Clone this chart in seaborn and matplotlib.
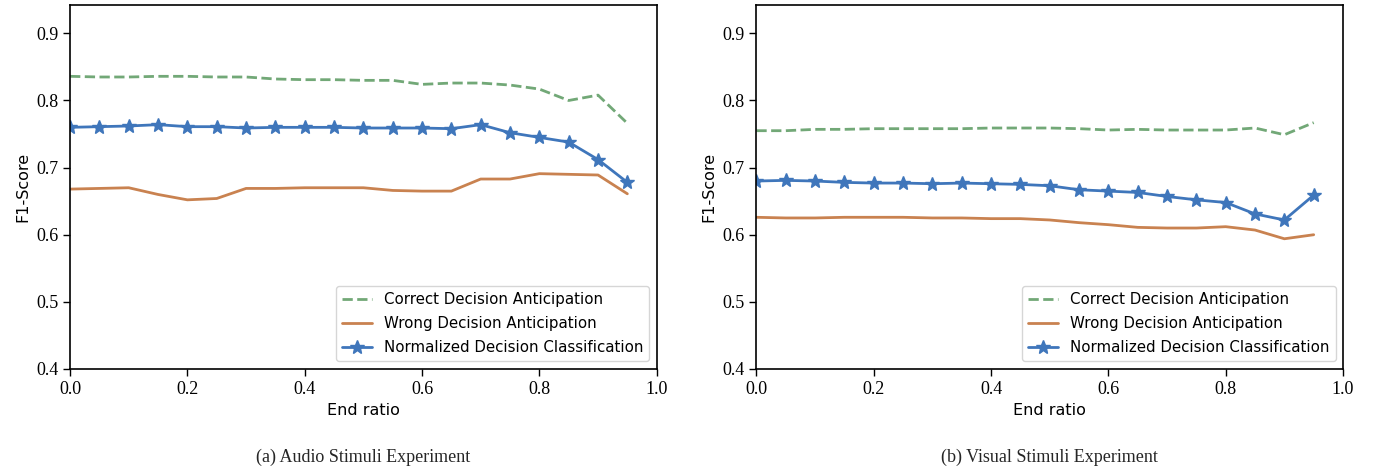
import numpy as np
import pandas as pd
import matplotlib.pyplot as plt
import seaborn as sns

end_ratio = [0.0, 0.05, 0.1, 0.15, 0.2, 0.25, 0.3, 0.35, 0.4, 0.45,
             0.5, 0.55, 0.6, 0.65, 0.7, 0.75, 0.8, 0.85, 0.9, 0.95]

# audio stimuli
audio_correct = [0.836, 0.835, 0.835, 0.836, 0.836, 0.835, 0.835, 0.832, 0.831, 0.831,
                 0.830, 0.830, 0.824, 0.826, 0.826, 0.823, 0.817, 0.800, 0.808, 0.766]
audio_wrong = [0.668, 0.669, 0.670, 0.660, 0.652, 0.654, 0.669, 0.669, 0.670, 0.670,
               0.670, 0.666, 0.665, 0.665, 0.683, 0.683, 0.691, 0.690, 0.689, 0.661]
audio_norm = [0.760, 0.761, 0.762, 0.764, 0.761, 0.761, 0.759, 0.760, 0.760, 0.760,
              0.759, 0.759, 0.759, 0.758, 0.764, 0.752, 0.745, 0.738, 0.712, 0.678]

# visual stimuli
visual_correct = [0.755, 0.755, 0.757, 0.757, 0.758, 0.758, 0.758, 0.758, 0.759, 0.759,
                  0.759, 0.758, 0.756, 0.757, 0.756, 0.756, 0.756, 0.759, 0.749, 0.767]
visual_wrong = [0.626, 0.625, 0.625, 0.626, 0.626, 0.626, 0.625, 0.625, 0.624, 0.624,
                0.622, 0.618, 0.615, 0.611, 0.610, 0.610, 0.612, 0.607, 0.594, 0.600]
visual_norm = [0.680, 0.681, 0.680, 0.678, 0.677, 0.677, 0.676, 0.677, 0.676, 0.675,
               0.673, 0.667, 0.665, 0.663, 0.657, 0.652, 0.648, 0.631, 0.622, 0.659]

labels = ['Correct Decision Anticipation', 'Wrong Decision Anticipation',
          'Normalized Decision Classification']
captions = ['(a) Audio Stimuli Experiment', '(b) Visual Stimuli Experiment']
colors = ['#72a877', '#c98250', '#3f76bb']

sns.set_theme(style='ticks')
plt.rcParams['font.family'] = ['DejaVu Sans']

fig, axes = plt.subplots(1, 2, figsize=(13.82, 4.70), dpi=100)
fig.subplots_adjust(left=0.0507, right=0.9718, top=0.989, bottom=0.2149, wspace=0.170)

for ax, corr, wrong, norm, cap in zip(axes, [audio_correct, visual_correct],
                                      [audio_wrong, visual_wrong],
                                      [audio_norm, visual_norm], captions):
    sns.lineplot(x=end_ratio, y=corr, ax=ax, color=colors[0], linestyle='--',
                 linewidth=2, label=labels[0])
    sns.lineplot(x=end_ratio, y=wrong, ax=ax, color=colors[1], linewidth=2,
                 label=labels[1])
    sns.lineplot(x=end_ratio, y=norm, ax=ax, color=colors[2], linewidth=2,
                 marker='*', markersize=10, markeredgewidth=1,
                 markeredgecolor=colors[2], label=labels[2])
    ax.set_xlim(0, 1.0)
    ax.set_ylim(0.4, 0.942)
    ax.set_xticks([0.0, 0.2, 0.4, 0.6, 0.8, 1.0])
    ax.set_yticks([0.4, 0.5, 0.6, 0.7, 0.8, 0.9])
    for t in ax.get_xticklabels() + ax.get_yticklabels():
        t.set_fontfamily('Liberation Serif')
        t.set_fontsize(13)
    ax.tick_params(length=5, width=1, colors='black')
    for s in ax.spines.values():
        s.set_color('black')
        s.set_linewidth(1.2)
    ax.set_xlabel('End ratio', fontsize=11.5, color='black')
    ax.set_ylabel('F1-Score', fontsize=11.5, color='black')
    leg = ax.legend(loc='lower right', fontsize=10.8, frameon=True,
                    labelspacing=0.6)
    for t in leg.get_texts():
        t.set_color('black')
    ax.text(0.5, -0.242, cap, transform=ax.transAxes, ha='center', va='center',
            fontsize=13, family='Liberation Serif')

fig.savefig('out.png', dpi=100)
